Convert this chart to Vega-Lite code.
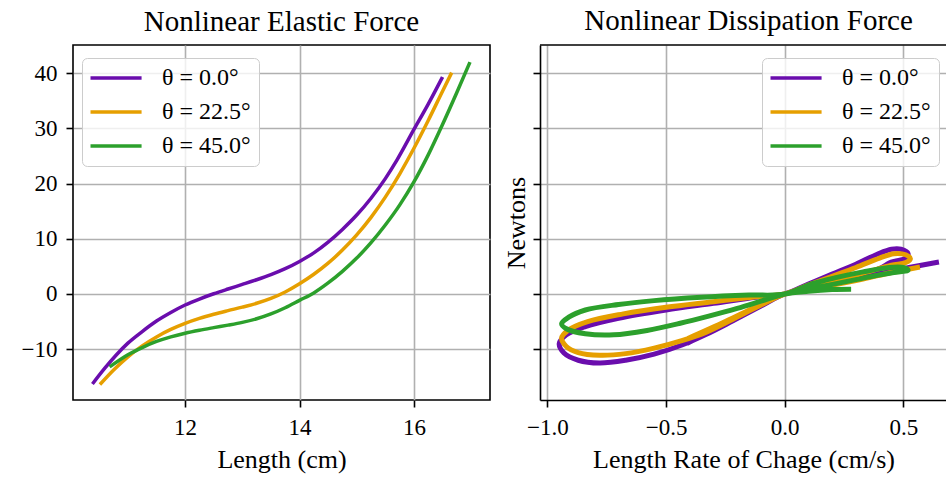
{
  "$schema": "https://vega.github.io/schema/vega-lite/v6.json",
  "padding": {"left": 20, "top": 7, "right": 0, "bottom": 3},
  "background": "white",
  "config": {
    "font": "Liberation Serif",
    "view": {"stroke": "black", "strokeWidth": 1.6},
    "axis": {
      "labelFont": "Liberation Serif", "titleFont": "Liberation Serif",
      "labelFontSize": 23, "titleFontSize": 26, "titleFontWeight": "normal",
      "labelColor": "black", "titleColor": "black",
      "tickColor": "black", "tickSize": 7, "tickWidth": 1.6,
      "gridColor": "#b0b0b0", "gridWidth": 1.6, "gridOpacity": 1,
      "domain": false, "labelPadding": 9, "titlePadding": 7
    },
    "title": {"font": "Liberation Serif", "fontSize": 29, "fontWeight": "normal", "color": "black", "offset": 8},
    "legend": {
      "title": null, "labelFont": "Liberation Serif", "labelFontSize": 24, "labelColor": "black",
      "symbolType": "M-1.8,0H6.2", "symbolSize": 163, "symbolStrokeWidth": 3.5,
      "labelOffset": 48, "rowPadding": 10, "padding": 8,
      "strokeColor": "#cccccc", "fillColor": "rgba(255,255,255,0.8)", "cornerRadius": 5
    }
  },
  "datasets": {
    "elastic": [
      {"t": "θ = 0.0°", "x": 10.38, "y": -16.3},
      {"t": "θ = 0.0°", "x": 10.6, "y": -13.4},
      {"t": "θ = 0.0°", "x": 10.8, "y": -11.0},
      {"t": "θ = 0.0°", "x": 11.0, "y": -8.9},
      {"t": "θ = 0.0°", "x": 11.25, "y": -6.8},
      {"t": "θ = 0.0°", "x": 11.5, "y": -4.9},
      {"t": "θ = 0.0°", "x": 11.75, "y": -3.35},
      {"t": "θ = 0.0°", "x": 12.0, "y": -2.0},
      {"t": "θ = 0.0°", "x": 12.25, "y": -0.91},
      {"t": "θ = 0.0°", "x": 12.5, "y": 0.04},
      {"t": "θ = 0.0°", "x": 12.75, "y": 0.9},
      {"t": "θ = 0.0°", "x": 13.0, "y": 1.73},
      {"t": "θ = 0.0°", "x": 13.25, "y": 2.58},
      {"t": "θ = 0.0°", "x": 13.5, "y": 3.51},
      {"t": "θ = 0.0°", "x": 13.75, "y": 4.59},
      {"t": "θ = 0.0°", "x": 14.0, "y": 5.9},
      {"t": "θ = 0.0°", "x": 14.25, "y": 7.45},
      {"t": "θ = 0.0°", "x": 14.5, "y": 9.4},
      {"t": "θ = 0.0°", "x": 14.75, "y": 11.7},
      {"t": "θ = 0.0°", "x": 15.0, "y": 14.3},
      {"t": "θ = 0.0°", "x": 15.25, "y": 17.35},
      {"t": "θ = 0.0°", "x": 15.5, "y": 20.9},
      {"t": "θ = 0.0°", "x": 15.7, "y": 24.2},
      {"t": "θ = 0.0°", "x": 16.0, "y": 29.8},
      {"t": "θ = 0.0°", "x": 16.25, "y": 34.4},
      {"t": "θ = 0.0°", "x": 16.5, "y": 39.3},
      {"t": "θ = 22.5°", "x": 10.51, "y": -16.4},
      {"t": "θ = 22.5°", "x": 10.75, "y": -13.76},
      {"t": "θ = 22.5°", "x": 11.0, "y": -11.38},
      {"t": "θ = 22.5°", "x": 11.25, "y": -9.4},
      {"t": "θ = 22.5°", "x": 11.5, "y": -7.77},
      {"t": "θ = 22.5°", "x": 11.75, "y": -6.42},
      {"t": "θ = 22.5°", "x": 12.0, "y": -5.32},
      {"t": "θ = 22.5°", "x": 12.25, "y": -4.42},
      {"t": "θ = 22.5°", "x": 12.5, "y": -3.67},
      {"t": "θ = 22.5°", "x": 12.75, "y": -3.01},
      {"t": "θ = 22.5°", "x": 13.0, "y": -2.38},
      {"t": "θ = 22.5°", "x": 13.25, "y": -1.68},
      {"t": "θ = 22.5°", "x": 13.5, "y": -0.8},
      {"t": "θ = 22.5°", "x": 13.75, "y": 0.37},
      {"t": "θ = 22.5°", "x": 14.0, "y": 1.85},
      {"t": "θ = 22.5°", "x": 14.25, "y": 3.57},
      {"t": "θ = 22.5°", "x": 14.5, "y": 5.58},
      {"t": "θ = 22.5°", "x": 14.75, "y": 7.95},
      {"t": "θ = 22.5°", "x": 15.0, "y": 10.7},
      {"t": "θ = 22.5°", "x": 15.25, "y": 13.88},
      {"t": "θ = 22.5°", "x": 15.5, "y": 17.54},
      {"t": "θ = 22.5°", "x": 15.75, "y": 21.73},
      {"t": "θ = 22.5°", "x": 16.0, "y": 26.39},
      {"t": "θ = 22.5°", "x": 16.25, "y": 31.43},
      {"t": "θ = 22.5°", "x": 16.5, "y": 36.73},
      {"t": "θ = 22.5°", "x": 16.66, "y": 40.1},
      {"t": "θ = 45.0°", "x": 10.68, "y": -13.2},
      {"t": "θ = 45.0°", "x": 11.0, "y": -11.0},
      {"t": "θ = 45.0°", "x": 11.25, "y": -9.7},
      {"t": "θ = 45.0°", "x": 11.5, "y": -8.6},
      {"t": "θ = 45.0°", "x": 11.75, "y": -7.76},
      {"t": "θ = 45.0°", "x": 12.0, "y": -7.1},
      {"t": "θ = 45.0°", "x": 12.25, "y": -6.56},
      {"t": "θ = 45.0°", "x": 12.5, "y": -6.09},
      {"t": "θ = 45.0°", "x": 12.75, "y": -5.64},
      {"t": "θ = 45.0°", "x": 13.0, "y": -5.14},
      {"t": "θ = 45.0°", "x": 13.25, "y": -4.49},
      {"t": "θ = 45.0°", "x": 13.5, "y": -3.61},
      {"t": "θ = 45.0°", "x": 13.75, "y": -2.49},
      {"t": "θ = 45.0°", "x": 14.0, "y": -1.15},
      {"t": "θ = 45.0°", "x": 14.25, "y": 0.2},
      {"t": "θ = 45.0°", "x": 14.5, "y": 2.0},
      {"t": "θ = 45.0°", "x": 14.75, "y": 4.1},
      {"t": "θ = 45.0°", "x": 15.0, "y": 6.5},
      {"t": "θ = 45.0°", "x": 15.25, "y": 9.3},
      {"t": "θ = 45.0°", "x": 15.5, "y": 12.5},
      {"t": "θ = 45.0°", "x": 15.75, "y": 16.1},
      {"t": "θ = 45.0°", "x": 16.0, "y": 20.3},
      {"t": "θ = 45.0°", "x": 16.25, "y": 25.2},
      {"t": "θ = 45.0°", "x": 16.5, "y": 30.7},
      {"t": "θ = 45.0°", "x": 16.75, "y": 36.5},
      {"t": "θ = 45.0°", "x": 16.98, "y": 42.0}
    ],
    "dissip": [
      {"t": "θ = 0.0°", "i": 0, "x": 0.65, "y": 5.8},
      {"t": "θ = 0.0°", "i": 1, "x": 0.5, "y": 4.6},
      {"t": "θ = 0.0°", "i": 2, "x": 0.3, "y": 2.8},
      {"t": "θ = 0.0°", "i": 3, "x": 0.12, "y": 1.1},
      {"t": "θ = 0.0°", "i": 4, "x": 0.0, "y": 0.0},
      {"t": "θ = 0.0°", "i": 5, "x": -0.1, "y": -2.2},
      {"t": "θ = 0.0°", "i": 6, "x": -0.22, "y": -4.9},
      {"t": "θ = 0.0°", "i": 7, "x": -0.33, "y": -7.3},
      {"t": "θ = 0.0°", "i": 8, "x": -0.43, "y": -9.2},
      {"t": "θ = 0.0°", "i": 9, "x": -0.55, "y": -10.9},
      {"t": "θ = 0.0°", "i": 10, "x": -0.67, "y": -12.0},
      {"t": "θ = 0.0°", "i": 11, "x": -0.78, "y": -12.5},
      {"t": "θ = 0.0°", "i": 12, "x": -0.87, "y": -12.0},
      {"t": "θ = 0.0°", "i": 13, "x": -0.93, "y": -10.7},
      {"t": "θ = 0.0°", "i": 14, "x": -0.95, "y": -9.0},
      {"t": "θ = 0.0°", "i": 15, "x": -0.92, "y": -7.4},
      {"t": "θ = 0.0°", "i": 16, "x": -0.84, "y": -5.9},
      {"t": "θ = 0.0°", "i": 17, "x": -0.7, "y": -4.4},
      {"t": "θ = 0.0°", "i": 18, "x": -0.5, "y": -2.9},
      {"t": "θ = 0.0°", "i": 19, "x": -0.3, "y": -1.7},
      {"t": "θ = 0.0°", "i": 20, "x": -0.12, "y": -0.6},
      {"t": "θ = 0.0°", "i": 21, "x": 0.0, "y": 0.0},
      {"t": "θ = 0.0°", "i": 22, "x": 0.1, "y": 1.8},
      {"t": "θ = 0.0°", "i": 23, "x": 0.2, "y": 3.6},
      {"t": "θ = 0.0°", "i": 24, "x": 0.3, "y": 5.4},
      {"t": "θ = 0.0°", "i": 25, "x": 0.39, "y": 7.2},
      {"t": "θ = 0.0°", "i": 26, "x": 0.45, "y": 8.1},
      {"t": "θ = 0.0°", "i": 27, "x": 0.49, "y": 8.1},
      {"t": "θ = 0.0°", "i": 28, "x": 0.52, "y": 7.3},
      {"t": "θ = 0.0°", "i": 29, "x": 0.51, "y": 6.5},
      {"t": "θ = 0.0°", "i": 30, "x": 0.47, "y": 6.0},
      {"t": "θ = 0.0°", "i": 31, "x": 0.44, "y": 5.6},
      {"t": "θ = 0.0°", "i": 32, "x": 0.4, "y": 4.6},
      {"t": "θ = 0.0°", "i": 33, "x": 0.2, "y": 2.2},
      {"t": "θ = 0.0°", "i": 34, "x": 0.0, "y": 0.0},
      {"t": "θ = 0.0°", "i": 35, "x": -0.12, "y": -2.5},
      {"t": "θ = 0.0°", "i": 36, "x": -0.25, "y": -5.5},
      {"t": "θ = 0.0°", "i": 37, "x": -0.41, "y": -8.9},
      {"t": "θ = 22.5°", "i": 0, "x": 0.57, "y": 4.9},
      {"t": "θ = 22.5°", "i": 1, "x": 0.45, "y": 3.9},
      {"t": "θ = 22.5°", "i": 2, "x": 0.33, "y": 2.7},
      {"t": "θ = 22.5°", "i": 3, "x": 0.15, "y": 1.2},
      {"t": "θ = 22.5°", "i": 4, "x": 0.0, "y": 0.0},
      {"t": "θ = 22.5°", "i": 5, "x": -0.1, "y": -2.0},
      {"t": "θ = 22.5°", "i": 6, "x": -0.22, "y": -4.6},
      {"t": "θ = 22.5°", "i": 7, "x": -0.33, "y": -6.9},
      {"t": "θ = 22.5°", "i": 8, "x": -0.43, "y": -8.4},
      {"t": "θ = 22.5°", "i": 9, "x": -0.55, "y": -9.8},
      {"t": "θ = 22.5°", "i": 10, "x": -0.67, "y": -10.8},
      {"t": "θ = 22.5°", "i": 11, "x": -0.78, "y": -11.1},
      {"t": "θ = 22.5°", "i": 12, "x": -0.87, "y": -10.6},
      {"t": "θ = 22.5°", "i": 13, "x": -0.92, "y": -9.5},
      {"t": "θ = 22.5°", "i": 14, "x": -0.94, "y": -8.0},
      {"t": "θ = 22.5°", "i": 15, "x": -0.91, "y": -6.5},
      {"t": "θ = 22.5°", "i": 16, "x": -0.83, "y": -5.0},
      {"t": "θ = 22.5°", "i": 17, "x": -0.68, "y": -3.6},
      {"t": "θ = 22.5°", "i": 18, "x": -0.5, "y": -2.4},
      {"t": "θ = 22.5°", "i": 19, "x": -0.3, "y": -1.4},
      {"t": "θ = 22.5°", "i": 20, "x": -0.12, "y": -0.5},
      {"t": "θ = 22.5°", "i": 21, "x": 0.0, "y": 0.0},
      {"t": "θ = 22.5°", "i": 22, "x": 0.1, "y": 1.6},
      {"t": "θ = 22.5°", "i": 23, "x": 0.2, "y": 3.2},
      {"t": "θ = 22.5°", "i": 24, "x": 0.3, "y": 4.8},
      {"t": "θ = 22.5°", "i": 25, "x": 0.4, "y": 6.5},
      {"t": "θ = 22.5°", "i": 26, "x": 0.46, "y": 7.3},
      {"t": "θ = 22.5°", "i": 27, "x": 0.51, "y": 7.1},
      {"t": "θ = 22.5°", "i": 28, "x": 0.53, "y": 6.4},
      {"t": "θ = 22.5°", "i": 29, "x": 0.51, "y": 5.7},
      {"t": "θ = 22.5°", "i": 30, "x": 0.45, "y": 5.2},
      {"t": "θ = 22.5°", "i": 31, "x": 0.35, "y": 4.0},
      {"t": "θ = 22.5°", "i": 32, "x": 0.2, "y": 2.2},
      {"t": "θ = 22.5°", "i": 33, "x": 0.0, "y": 0.0},
      {"t": "θ = 22.5°", "i": 34, "x": -0.12, "y": -2.3},
      {"t": "θ = 22.5°", "i": 35, "x": -0.25, "y": -5.0},
      {"t": "θ = 22.5°", "i": 36, "x": -0.41, "y": -8.1},
      {"t": "θ = 45.0°", "i": 0, "x": 0.28, "y": 0.85},
      {"t": "θ = 45.0°", "i": 1, "x": 0.2, "y": 0.8},
      {"t": "θ = 45.0°", "i": 2, "x": 0.1, "y": 0.5},
      {"t": "θ = 45.0°", "i": 3, "x": 0.0, "y": 0.0},
      {"t": "θ = 45.0°", "i": 4, "x": -0.1, "y": -1.3},
      {"t": "θ = 45.0°", "i": 5, "x": -0.2, "y": -2.6},
      {"t": "θ = 45.0°", "i": 6, "x": -0.32, "y": -4.0},
      {"t": "θ = 45.0°", "i": 7, "x": -0.44, "y": -5.3},
      {"t": "θ = 45.0°", "i": 8, "x": -0.58, "y": -6.6},
      {"t": "θ = 45.0°", "i": 9, "x": -0.72, "y": -7.4},
      {"t": "θ = 45.0°", "i": 10, "x": -0.84, "y": -7.2},
      {"t": "θ = 45.0°", "i": 11, "x": -0.92, "y": -6.3},
      {"t": "θ = 45.0°", "i": 12, "x": -0.94, "y": -5.4},
      {"t": "θ = 45.0°", "i": 13, "x": -0.91, "y": -4.2},
      {"t": "θ = 45.0°", "i": 14, "x": -0.84, "y": -2.9},
      {"t": "θ = 45.0°", "i": 15, "x": -0.7, "y": -1.9},
      {"t": "θ = 45.0°", "i": 16, "x": -0.55, "y": -1.2},
      {"t": "θ = 45.0°", "i": 17, "x": -0.35, "y": -0.6},
      {"t": "θ = 45.0°", "i": 18, "x": -0.15, "y": -0.2},
      {"t": "θ = 45.0°", "i": 19, "x": 0.0, "y": 0.0},
      {"t": "θ = 45.0°", "i": 20, "x": 0.12, "y": 1.9},
      {"t": "θ = 45.0°", "i": 21, "x": 0.22, "y": 3.0},
      {"t": "θ = 45.0°", "i": 22, "x": 0.33, "y": 4.0},
      {"t": "θ = 45.0°", "i": 23, "x": 0.44, "y": 4.8},
      {"t": "θ = 45.0°", "i": 24, "x": 0.5, "y": 4.8},
      {"t": "θ = 45.0°", "i": 25, "x": 0.52, "y": 4.3},
      {"t": "θ = 45.0°", "i": 26, "x": 0.46, "y": 3.9},
      {"t": "θ = 45.0°", "i": 27, "x": 0.38, "y": 3.3},
      {"t": "θ = 45.0°", "i": 28, "x": 0.3, "y": 2.6},
      {"t": "θ = 45.0°", "i": 29, "x": 0.15, "y": 1.3},
      {"t": "θ = 45.0°", "i": 30, "x": 0.0, "y": 0.0}
    ]
  },
  "bounds": "flush",
  "spacing": 50,
  "resolve": {"legend": {"color": "independent"}},
  "hconcat": [
    {
      "width": 417,
      "height": 355,
      "title": {"text": "Nonlinear Elastic Force"},
      "data": {"name": "elastic"},
      "mark": {"type": "line", "strokeWidth": 3.5, "interpolate": "monotone", "clip": true},
      "encoding": {
        "x": {"field": "x", "type": "quantitative", "scale": {"domain": [10.04, 17.33], "nice": false, "zero": false},
              "axis": {"values": [12, 14, 16], "format": "d", "title": "Length (cm)"}},
        "y": {"field": "y", "type": "quantitative", "scale": {"domain": [-19.2, 45.1], "nice": false, "zero": false},
              "axis": {"values": [-10, 0, 10, 20, 30, 40], "format": "d", "title": null}},
        "color": {"field": "t", "type": "nominal",
                  "scale": {"domain": ["θ = 0.0°", "θ = 22.5°", "θ = 45.0°"], "range": ["#6a0dad", "#e69f00", "#2ca02c"]},
                  "legend": {"orient": "none", "legendX": 9, "legendY": 13}}
      }
    },
    {
      "width": 407,
      "height": 355,
      "view": {"stroke": null},
      "title": {"text": "Nonlinear Dissipation Force", "dx": 5},
      "layer": [
        {
          "data": {"name": "dissip"},
          "mark": {"type": "line", "strokeWidth": 5, "interpolate": "catmull-rom", "clip": true},
          "encoding": {
            "x": {"field": "x", "type": "quantitative", "scale": {"domain": [-1.031, 0.684], "nice": false, "zero": false},
                  "axis": {"values": [-1, -0.5, 0, 0.5], "format": ".1f", "title": "Length Rate of Chage (cm/s)", "domain": true, "domainColor": "black", "domainWidth": 1.6}},
            "y": {"field": "y", "type": "quantitative", "scale": {"domain": [-19.2, 45.1], "nice": false, "zero": false},
                  "axis": {"values": [-10, 0, 10, 20, 30, 40], "labels": false, "title": "Newtons", "titlePadding": 3, "domain": true, "domainColor": "black", "domainWidth": 1.6}},
            "order": {"field": "i", "type": "quantitative"},
            "color": {"field": "t", "type": "nominal",
                      "scale": {"domain": ["θ = 0.0°", "θ = 22.5°", "θ = 45.0°"], "range": ["#6a0dad", "#e69f00", "#2ca02c"]},
                      "legend": {"orient": "none", "legendX": 222, "legendY": 13}}
          }
        },
        {
          "data": {"values": [{}]},
          "mark": {"type": "rule", "color": "black", "strokeWidth": 1.6},
          "encoding": {"y": {"datum": 45.1, "type": "quantitative"}}
        }
      ]
    }
  ]
}
